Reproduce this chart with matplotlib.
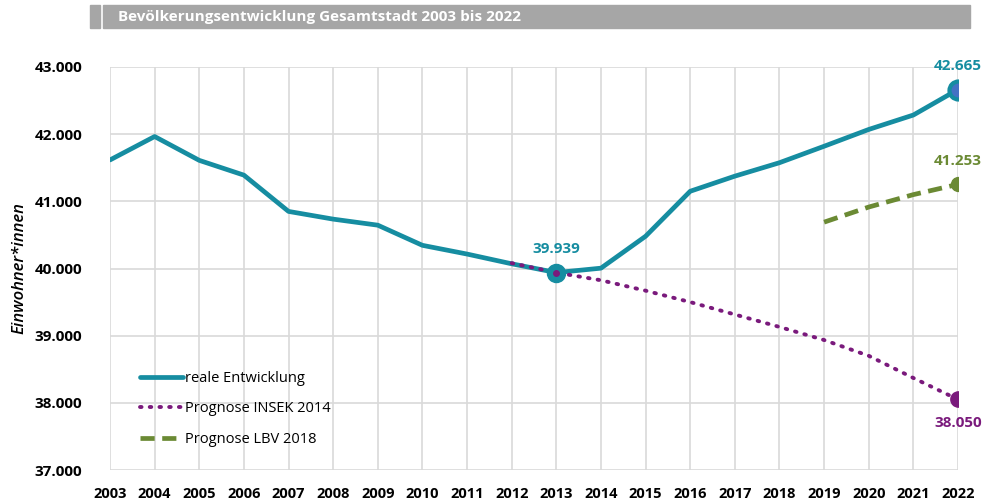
import numpy as np
import matplotlib.pyplot as plt
from matplotlib.patches import Rectangle

plt.rcParams['font.family'] = ['Open Sans', 'DejaVu Sans']

# data
years = list(range(2003, 2023))
real = [41616, 41965, 41610, 41390, 40850, 40735, 40645, 40345, 40215,
        40070, 39939, 40005, 40480, 41150, 41375, 41575, 41820, 42070,
        42285, 42665]
insek_years = list(range(2012, 2023))
insek = [40080, 39939, 39825, 39670, 39500, 39315, 39130, 38935, 38700,
         38370, 38050]
lbv_years = [2019, 2020, 2021, 2022]
lbv = [40690, 40915, 41100, 41253]

yticks = [37000, 38000, 39000, 40000, 41000, 42000, 43000]
ytick_labels = ['37.000', '38.000', '39.000', '40.000', '41.000', '42.000', '43.000']

teal = '#168DA1'
purple = '#7A1A7C'
green = '#6B8A34'

fig = plt.figure(figsize=(9.84, 5.04), dpi=100)
ax = fig.add_axes([110 / 984, 1 - 470 / 504, 848 / 984, 403 / 504])

ax.plot(years, real, color=teal, lw=3.4, solid_capstyle='round', label='reale Entwicklung', zorder=3)
ax.plot(insek_years, insek, color=purple, lw=2.8, linestyle=(0, (0.4, 2.1)),
        dash_capstyle='round', label='Prognose INSEK 2014', zorder=4)
ax.plot(lbv_years, lbv, color=green, lw=3.4, linestyle=(0, (3, 1.6)),
        label='Prognose LBV 2018', zorder=3)

# highlighted points
ax.plot([2013], [real[10]], 'o', ms=13, color=teal, zorder=5)
ax.plot([2022], [real[-1]], 'o', ms=13, mfc='#4472C4', mec=teal, mew=3, zorder=5)
ax.plot([2013], [insek[1]], 'o', ms=4, color=purple, zorder=6)
ax.plot([2022], [insek[-1]], 'o', ms=11, color=purple, zorder=5)
ax.plot([2022], [lbv[-1]], 'o', ms=10, color=green, zorder=5)

def fmt(v):
    return f'{v:,}'.replace(',', '.')

ax.annotate(fmt(real[10]), (2013, real[10]), xytext=(0, 12), textcoords='offset points',
            ha='center', va='bottom', color=teal, fontsize=11, fontweight='bold')
ax.annotate(fmt(real[-1]), (2022, real[-1]), xytext=(0, 12), textcoords='offset points',
            ha='center', va='bottom', color=teal, fontsize=11, fontweight='bold')
ax.annotate(fmt(lbv[-1]), (2022, lbv[-1]), xytext=(0, 12), textcoords='offset points',
            ha='center', va='bottom', color=green, fontsize=11, fontweight='bold')
ax.annotate(fmt(insek[-1]), (2022, insek[-1]), xytext=(0, -12), textcoords='offset points',
            ha='center', va='top', color=purple, fontsize=11, fontweight='bold')

ax.set_xlim(2003, 2022)
ax.set_ylim(37000, 43000)
ax.set_xticks(years)
ax.set_xticklabels([str(y) for y in years], fontsize=10.5, fontweight='bold')
ax.set_yticks(yticks)
ax.set_yticklabels(ytick_labels, fontsize=11, fontweight='bold')
ax.tick_params(axis='x', length=0, pad=12)
ax.tick_params(axis='y', length=0, pad=20)
ax.grid(True, color='#D9D9D9', lw=1.2)
ax.set_axisbelow(True)
for s in ax.spines.values():
    s.set_visible(False)

ax.set_ylabel('Einwohner*innen', fontsize=12, fontstyle='italic', fontweight='semibold')
ax.yaxis.set_label_coords(-83 / 848, 0.5)

leg = ax.legend(loc='upper left', bbox_to_anchor=(30 / 848, 99 / 403), frameon=False,
                fontsize=10.5, handlelength=2.95, handletextpad=0.15, labelspacing=1.05,
                borderaxespad=0, borderpad=0)

# title bar
fig.patches.append(Rectangle((90 / 984, 1 - 28 / 504), 10 / 984, 23 / 504,
                             transform=fig.transFigure, color='#A6A6A6'))
fig.patches.append(Rectangle((103 / 984, 1 - 28 / 504), 867 / 984, 23 / 504,
                             transform=fig.transFigure, color='#A6A6A6'))
fig.text(118 / 984, 1 - 16.5 / 504, 'Bevölkerungsentwicklung Gesamtstadt 2003 bis 2022',
         color='white', fontsize=11, fontweight='bold', va='center', ha='left')

fig.savefig('out.png', dpi=100)
